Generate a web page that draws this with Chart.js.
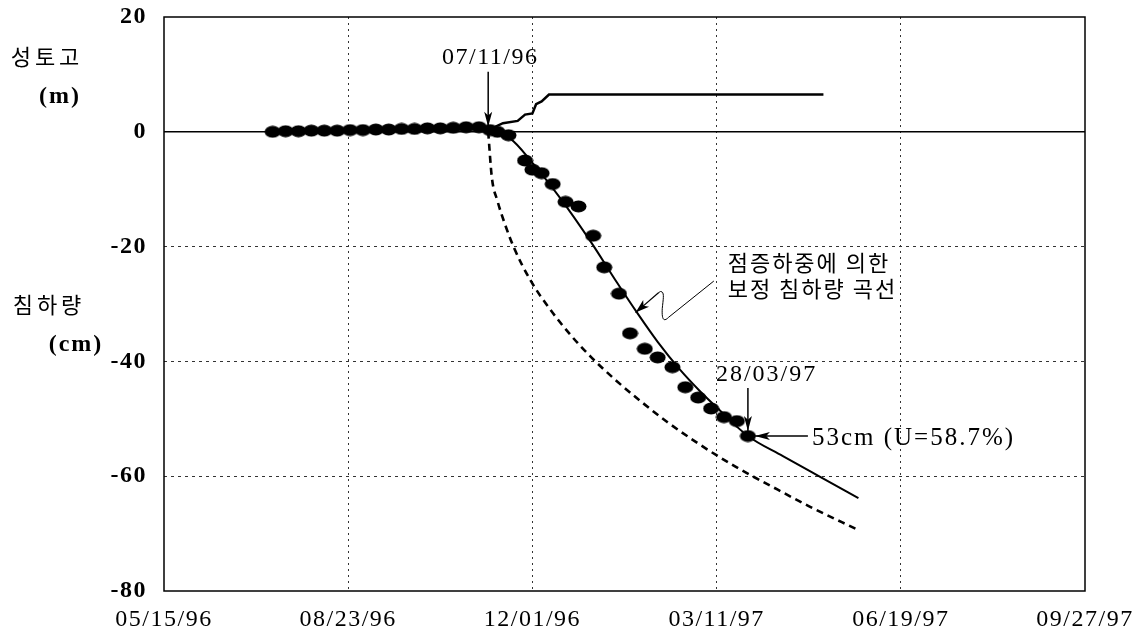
<!DOCTYPE html>
<html>
<head>
<meta charset="utf-8">
<script src="https://cdn.jsdelivr.net/npm/chart.js@4.4.1/dist/chart.umd.min.js"></script>
<style>
  html, body { margin: 0; padding: 0; background: #fff; }
  #wrap { width: 1144px; height: 637px; }
</style>
</head>
<body>
<div id="wrap"><canvas id="c" width="1144" height="637"></canvas></div>
<script>
// x axis: days elapsed since 05/15/96, tick every 100 days
const dateTicks = ['05/15/96', '08/23/96', '12/01/96', '03/11/97', '06/19/97', '09/27/97'];

// Embankment height (m)
const fillDays   = [176, 184, 192, 196, 200, 202, 205, 209, 358];
const fillHeight = [0.3, 1.5, 1.9, 3.0, 3.2, 4.8, 5.3, 6.5, 6.5];

// Measured settlement (cm)
const measDays  = [59, 66, 73, 80, 87, 94, 101, 108, 115, 122, 129, 136, 143, 150, 157, 164, 171,
                   177, 181, 187, 196, 200, 205, 211, 218, 225, 233, 239, 247, 253, 261, 268, 276,
                   283, 290, 297, 304, 311, 317];
const measSettle = [0.0, 0.1, 0.1, 0.2, 0.2, 0.2, 0.3, 0.3, 0.4, 0.4, 0.5, 0.5, 0.6, 0.6, 0.7, 0.8, 0.8,
                    0.3, 0.0, -0.6, -5.0, -6.6, -7.2, -9.1, -12.2, -13.0, -18.1, -23.6, -28.2, -35.1, -37.8, -39.3, -41.0,
                    -44.5, -46.3, -48.2, -49.7, -50.4, -53.0];

// Settlement curve corrected for gradual loading (cm)
const corrDays   = [177, 188, 200, 215, 232, 246, 257, 268, 280, 291, 301, 317, 336, 355, 377];
const corrSettle = [0, -1.2, -5.4, -11.5, -19.3, -26.3, -31.6, -36.6, -41.4, -45.2, -48.3, -53.0, -56.5, -59.9, -63.8];

// Settlement curve for instantaneous loading (cm)
const instDays   = [176, 178, 181, 185, 190, 199, 210, 221, 232, 245, 259, 273, 290, 310, 330, 350, 377];
const instSettle = [0, -8.0, -12.0, -16.0, -20.2, -25.9, -31.1, -35.5, -39.3, -43.2, -47.0, -50.5, -54.3, -58.3, -61.8, -65.2, -69.4];

// Key events
const loadStartDay = 176;           // 07/11/96
const markDay = 317;                // 28/03/97
const markSettle = -53;             // 53 cm
const markLabel = '53cm (U=58.7%)';

const toXY = (xs, ys) => xs.map((x, i) => ({ x: x, y: ys[i] }));

// elliptical filled marker
const dot = document.createElement('canvas');
dot.width = 17; dot.height = 13;
(function () {
  const c = dot.getContext('2d');
  c.fillStyle = '#000';
  c.beginPath();
  c.ellipse(8.5, 6.5, 8, 6, 0, 0, Math.PI * 2);
  c.fill();
})();

const SERIF = '"Liberation Serif", "DejaVu Serif", serif';
const KR = '"Noto Sans CJK KR", "Noto Sans", sans-serif';

function arrow(ctx, x1, y1, x2, y2, len, half) {
  ctx.beginPath();
  ctx.moveTo(x1, y1);
  ctx.lineTo(x2, y2);
  ctx.stroke();
  const a = Math.atan2(y2 - y1, x2 - x1);
  const c = Math.cos(a), s = Math.sin(a);
  ctx.beginPath();
  ctx.moveTo(x2, y2);
  ctx.lineTo(x2 - len * c + half * s, y2 - len * s - half * c);
  ctx.lineTo(x2 - len * 0.75 * c, y2 - len * 0.75 * s);
  ctx.lineTo(x2 - len * c - half * s, y2 - len * s + half * c);
  ctx.closePath();
  ctx.fill();
}

const framePlugin = {
  id: 'frame',
  beforeLayout(chart) { chart.ctx.letterSpacing = '1.5px'; },
  beforeDraw(chart) { chart.ctx.letterSpacing = '1.5px'; },
  beforeDatasetsDraw(chart) {
    const { ctx, chartArea: a, scales } = chart;
    ctx.save();
    ctx.strokeStyle = '#000';
    ctx.lineWidth = 1.5;
    ctx.strokeRect(a.left, a.top, a.right - a.left, a.bottom - a.top);
    const y0 = scales.y.getPixelForValue(0);
    ctx.beginPath();
    ctx.moveTo(a.left, y0);
    ctx.lineTo(a.right, y0);
    ctx.stroke();
    ctx.restore();
  },
  afterDatasetsDraw(chart) {
    const { ctx, scales } = chart;
    const X = v => scales.x.getPixelForValue(v);
    const Y = v => scales.y.getPixelForValue(v);
    ctx.save();
    ctx.fillStyle = '#000';
    ctx.strokeStyle = '#000';
    ctx.lineWidth = 1.5;

    // load start
    const sx = X(loadStartDay), sy = Y(0);
    arrow(ctx, sx, sy - 60, sx, sy - 5, 15, 4);
    ctx.font = '24px ' + SERIF;
    ctx.letterSpacing = '1.5px';
    ctx.textAlign = 'center';
    ctx.textBaseline = 'middle';
    ctx.fillText('07/11/96', sx + 2, sy - 74);

    // marked reading
    const mx = X(markDay), my = Y(markSettle);
    arrow(ctx, mx, my - 48, mx, my - 5, 15, 4);
    ctx.textAlign = 'left';
    ctx.letterSpacing = '2px';
    ctx.fillText('28/03/97', mx - 32, my - 61);
    arrow(ctx, mx + 60, my, mx + 7, my, 15, 4);
    ctx.font = '25px ' + SERIF;
    ctx.fillText(markLabel, mx + 64, my + 2);

    // curve note
    ctx.font = '22px ' + KR;
    ctx.letterSpacing = '2px';
    ctx.fillText('점증하중에 의한', X(306), Y(-22.8));
    ctx.fillText('보정 침하량 곡선', X(306), Y(-27.3));

    // wavy leader to the corrected curve
    ctx.lineWidth = 1;
    ctx.beginPath();
    ctx.moveTo(X(298.5), Y(-26.0));
    ctx.lineTo(X(274.0), Y(-32.3));
    ctx.bezierCurveTo(X(271.0), Y(-33.3), X(270.2), Y(-32.5), X(270.5), Y(-30.8));
    ctx.bezierCurveTo(X(271.0), Y(-29.2), X(271.6), Y(-28.2), X(270.4), Y(-27.9));
    ctx.quadraticCurveTo(X(269.6), Y(-27.7), X(268.6), Y(-28.0));
    ctx.stroke();
    ctx.lineWidth = 1.2;
    arrow(ctx, X(268.6), Y(-28.0), X(256.0), Y(-31.5), 14, 4.5);
    ctx.restore();
  },
  afterDraw(chart) {
    const ctx = chart.ctx;
    ctx.save();
    ctx.fillStyle = '#000';
    ctx.textAlign = 'center';
    ctx.textBaseline = 'middle';
    ctx.font = '22px ' + KR;
    ctx.letterSpacing = '4px';
    ctx.fillText('성토고', 47, 57);
    ctx.fillText('침하량', 49, 305);
    ctx.font = 'bold 24px ' + SERIF;
    ctx.letterSpacing = '2px';
    ctx.fillText('(m)', 60, 97);
    ctx.fillText('(cm)', 76, 345);
    ctx.restore();
  }
};

const gridColor = (keep) => (c) => keep(c.tick.value) ? '#333' : 'rgba(0,0,0,0)';

new Chart(document.getElementById('c'), {
  type: 'scatter',
  data: {
    datasets: [
      {
        label: '성토고',
        data: toXY(fillDays, fillHeight),
        showLine: true,
        borderColor: '#000',
        borderWidth: 2.5,
        pointRadius: 0,
        tension: 0
      },
      {
        label: '보정 침하량 곡선',
        data: toXY(corrDays, corrSettle),
        showLine: true,
        borderColor: '#000',
        borderWidth: 2,
        pointRadius: 0,
        cubicInterpolationMode: 'monotone'
      },
      {
        label: '순간재하 침하량 곡선',
        data: toXY(instDays, instSettle),
        showLine: true,
        borderColor: '#000',
        borderWidth: 2.6,
        borderDash: [7, 5],
        pointRadius: 0,
        cubicInterpolationMode: 'monotone'
      },
      {
        label: '실측 침하량',
        data: toXY(measDays, measSettle),
        showLine: false,
        pointStyle: dot,
        pointRadius: 8,
        backgroundColor: '#000',
        borderColor: '#000'
      }
    ]
  },
  options: {
    responsive: false,
    animation: false,
    devicePixelRatio: 1,
    layout: { padding: { left: 0, top: 17, right: 59, bottom: 0 } },
    plugins: { legend: { display: false }, tooltip: { enabled: false } },
    scales: {
      x: {
        type: 'linear',
        min: 0,
        max: 500,
        afterFit: (s) => { s.height = 46; s.paddingLeft = 0; s.paddingRight = 0; },
        afterBuildTicks: (s) => { s.ticks = dateTicks.map((_, i) => ({ value: i * 100 })); },
        ticks: {
          color: '#000',
          padding: 14,
          maxRotation: 0,
          autoSkip: false,
          font: { family: SERIF, size: 24 },
          callback: (v) => dateTicks[Math.round(v / 100)]
        },
        grid: { color: gridColor(v => v > 0 && v < 500), lineWidth: 1, drawTicks: false },
        border: { display: false, dash: [2, 4] }
      },
      y: {
        type: 'linear',
        min: -80,
        max: 20,
        afterFit: (s) => { s.width = 164; s.paddingTop = 0; s.paddingBottom = 0; },
        ticks: {
          stepSize: 20,
          color: '#000',
          padding: 17,
          font: { family: SERIF, size: 24, weight: 'bold' }
        },
        grid: { color: gridColor(v => v < 0 && v > -80), lineWidth: 1, drawTicks: false },
        border: { display: false, dash: [3, 4] }
      }
    }
  },
  plugins: [framePlugin]
});
</script>
</body>
</html>
